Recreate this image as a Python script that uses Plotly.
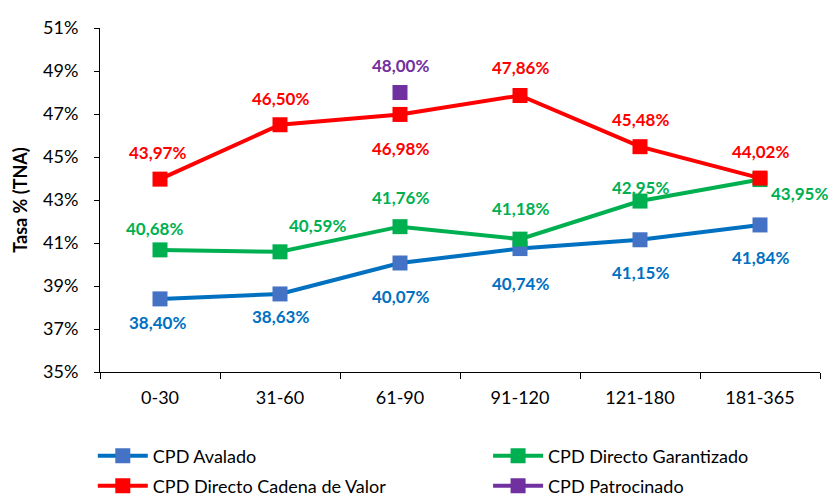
import plotly.graph_objects as go

categories = ["0-30", "31-60", "61-90", "91-120", "121-180", "181-365"]
avalado = [38.40, 38.63, 40.07, 40.74, 41.15, 41.84]
garantizado = [40.68, 40.59, 41.76, 41.18, 42.95, 43.95]
cadena = [43.97, 46.50, 46.98, 47.86, 45.48, 44.02]
patrocinado = [None, None, 48.00, None, None, None]
y_ticks = [35, 37, 39, 41, 43, 45, 47, 49, 51]
y_tick_labels = [f"{v}%" for v in y_ticks]

FONT = "Lato"

def fmt(v):
    return f"{v:.2f}%".replace(".", ",")

# label offsets in pixels (dx right, dy down) relative to each point -- style only
series = [
    dict(name="CPD Avalado", y=avalado, line="#0070C0", marker="#4472C4", text="#0070C0",
         dx=[-3, 0, 0, 0, 0, 0], dy=[24, 23, 33, 35, 33, 33], legend="legend"),
    dict(name="CPD Directo Garantizado", y=garantizado, line="#00B050", marker="#00B050", text="#00B050",
         dx=[-6, 37, 0, 0, 0, 39], dy=[-21, -26, -29, -31, -14, 14], legend="legend2"),
    dict(name="CPD Directo Cadena de Valor", y=cadena, line="#FF0000", marker="#FF0000", text="#FF0000",
         dx=[-3, 0, 0, 0, 0, 0], dy=[-27, -26, 34, -28, -27, -27], legend="legend3"),
    dict(name="CPD Patrocinado", y=patrocinado, line="#7030A0", marker="#7030A0", text="#7030A0",
         dx=[0] * 6, dy=[-27] * 6, legend="legend4"),
]

fig = go.Figure()
for s in series:
    fig.add_trace(go.Scatter(
        x=categories, y=s["y"], name=s["name"], mode="lines+markers",
        line=dict(color=s["line"], width=4),
        marker=dict(symbol="square", size=15, color=s["marker"]),
        cliponaxis=False, legend=s["legend"],
    ))
    for cat, v, dx, dy in zip(categories, s["y"], s["dx"], s["dy"]):
        if v is None:
            continue
        fig.add_annotation(x=cat, y=v, text=fmt(v), showarrow=False,
                           xshift=dx, yshift=-dy, xanchor="center", yanchor="middle",
                           font=dict(family=FONT, size=17, color=s["text"], weight="bold"))

PLOT_H = 344
leg_common = dict(orientation="h", xanchor="left", yanchor="middle",
                  font=dict(size=18, family=FONT), itemwidth=50,
                  bgcolor="rgba(0,0,0,0)")
col1, col2 = -0.01, 0.539
row1, row2 = -84 / PLOT_H, -114 / PLOT_H

fig.update_layout(
    width=830, height=490,
    margin=dict(l=92, r=18, t=20, b=126, autoexpand=False),
    paper_bgcolor="white", plot_bgcolor="white",
    font=dict(family=FONT, size=18, color="black"),
    showlegend=True,
    legend=dict(x=col1, y=row1, **leg_common),
    legend2=dict(x=col2, y=row1, **leg_common),
    legend3=dict(x=col1, y=row2, **leg_common),
    legend4=dict(x=col2, y=row2, **leg_common),
    xaxis=dict(type="category", showline=True, linecolor="black", linewidth=1,
               ticks="outside", tickson="boundaries", ticklen=6, tickcolor="black",
               showgrid=False, tickfont=dict(size=18), range=[-0.5, 5.5],
               ticklabelstandoff=9),
    yaxis=dict(range=[35, 51], tickvals=y_ticks, ticktext=y_tick_labels, showline=True,
               linecolor="black", linewidth=1, ticks="outside", ticklen=5, tickcolor="black",
               showgrid=False, tickfont=dict(size=18), zeroline=False, ticklabelstandoff=12,
               title=dict(text="Tasa % (TNA)", font=dict(size=18, weight="bold"), standoff=10)),
)

fig.write_html("out.html")
